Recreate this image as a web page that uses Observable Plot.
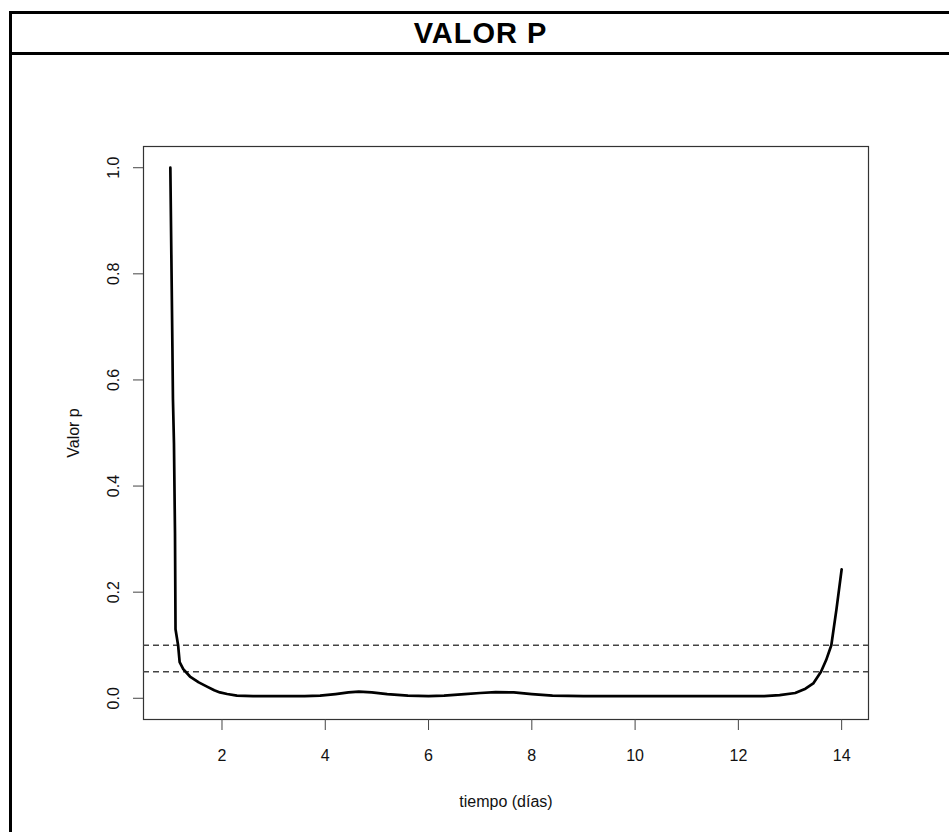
<!DOCTYPE html>
<html>
<head>
<meta charset="utf-8">
<script src="https://cdn.jsdelivr.net/npm/d3@7"></script>
<script src="https://cdn.jsdelivr.net/npm/@observablehq/plot@0.6"></script>
<style>
  html, body { margin: 0; padding: 0; background: #fff; width: 949px; height: 832px; overflow: hidden; }
  #chart { position: absolute; left: 0; top: 0; }
  #frameL { position: absolute; left: 9px; top: 11px; width: 3px; height: 900px; background: #000; }
  #frameT { position: absolute; left: 9px; top: 11px; width: 1000px; height: 3px; background: #000; }
  #divider { position: absolute; left: 9px; top: 52px; width: 1000px; height: 3px; background: #000; }
  #title { position: absolute; left: 12px; width: 937px; top: 14px; height: 38px; display: flex; align-items: center; justify-content: center;
           font-family: "Liberation Sans", Arial, sans-serif; font-weight: bold; font-size: 29px; letter-spacing: 1px; color: #000; }
</style>
</head>
<body>
<div id="chart"></div>
<div id="frameL"></div>
<div id="frameT"></div>
<div id="divider"></div>
<div id="title">VALOR P</div>
<script>
// Data
const tiempo = [1.00, 1.02, 1.04, 1.05, 1.07, 1.09, 1.10, 1.15, 1.18, 1.25, 1.38, 1.55, 1.71, 1.85, 1.96, 2.10, 2.29, 2.60,
  3.00, 3.60, 3.90, 4.20, 4.45, 4.65, 4.90, 5.20, 5.60, 6.00, 6.30, 6.70, 7.00, 7.30, 7.65, 8.00, 8.40,
  9.00, 10.00, 11.00, 12.00, 12.50, 12.80, 13.10, 13.30, 13.45, 13.60, 13.70, 13.80, 13.90, 14.00];
const valorP = [1.000, 0.830, 0.660, 0.565, 0.480, 0.310, 0.130, 0.100, 0.068, 0.055, 0.041, 0.030, 0.022, 0.015, 0.011, 0.008, 0.005, 0.004,
  0.004, 0.004, 0.005, 0.008, 0.011, 0.0125, 0.011, 0.008, 0.005, 0.004, 0.005, 0.008, 0.010, 0.0115, 0.011, 0.008, 0.005,
  0.004, 0.004, 0.004, 0.004, 0.004, 0.006, 0.010, 0.018, 0.028, 0.050, 0.072, 0.100, 0.168, 0.243];
const umbrales = [0.10, 0.05];
const xTicks = [2, 4, 6, 8, 10, 12, 14];
const yTicks = [0.0, 0.2, 0.4, 0.6, 0.8, 1.0];
const xLabel = "tiempo (días)";
const yLabel = "Valor p";

const data = tiempo.map((t, i) => ({t, p: valorP[i]}));
const fmt = d3.format(".1f");
const font = "Liberation Sans, Arial, sans-serif";

const plot = Plot.plot({
  width: 949,
  height: 832,
  marginLeft: 143,
  marginRight: 81,
  marginTop: 146,
  marginBottom: 113,
  style: {background: "transparent", fontFamily: font, fontSize: "16px", color: "#111"},
  x: {domain: [0.48, 14.52]},
  y: {domain: [-0.04, 1.04]},
  marks: [
    Plot.frame({stroke: "#333", strokeWidth: 1.2}),
    Plot.axisX({ticks: xTicks, tickSize: 11, stroke: "#444", fill: "none", label: null}),
    Plot.axisY({ticks: yTicks, tickSize: 10, stroke: "#444", fill: "none", label: null}),
    Plot.text(xTicks, {x: d => d, text: d => String(d), frameAnchor: "bottom", dy: 36, lineAnchor: "middle", fontSize: 16, fill: "#111"}),
    Plot.text(yTicks, {y: d => d, text: d => fmt(d), frameAnchor: "left", dx: -30, rotate: -90, textAnchor: "middle", lineAnchor: "middle", fontSize: 16, fill: "#111"}),
    Plot.text([xLabel], {text: d => d, frameAnchor: "bottom", dy: 82, lineAnchor: "middle", fontSize: 16, fill: "#111"}),
    Plot.text([yLabel], {text: d => d, frameAnchor: "left", dx: -70, rotate: -90, textAnchor: "middle", lineAnchor: "middle", fontSize: 16, fill: "#111"}),
    Plot.ruleY(umbrales, {y: d => d, stroke: "#444", strokeWidth: 1.4, strokeDasharray: "6,4"}),
    Plot.line(data, {x: "t", y: "p", stroke: "#000", strokeWidth: 2.7})
  ]
});
document.getElementById("chart").appendChild(plot);
</script>
</body>
</html>
